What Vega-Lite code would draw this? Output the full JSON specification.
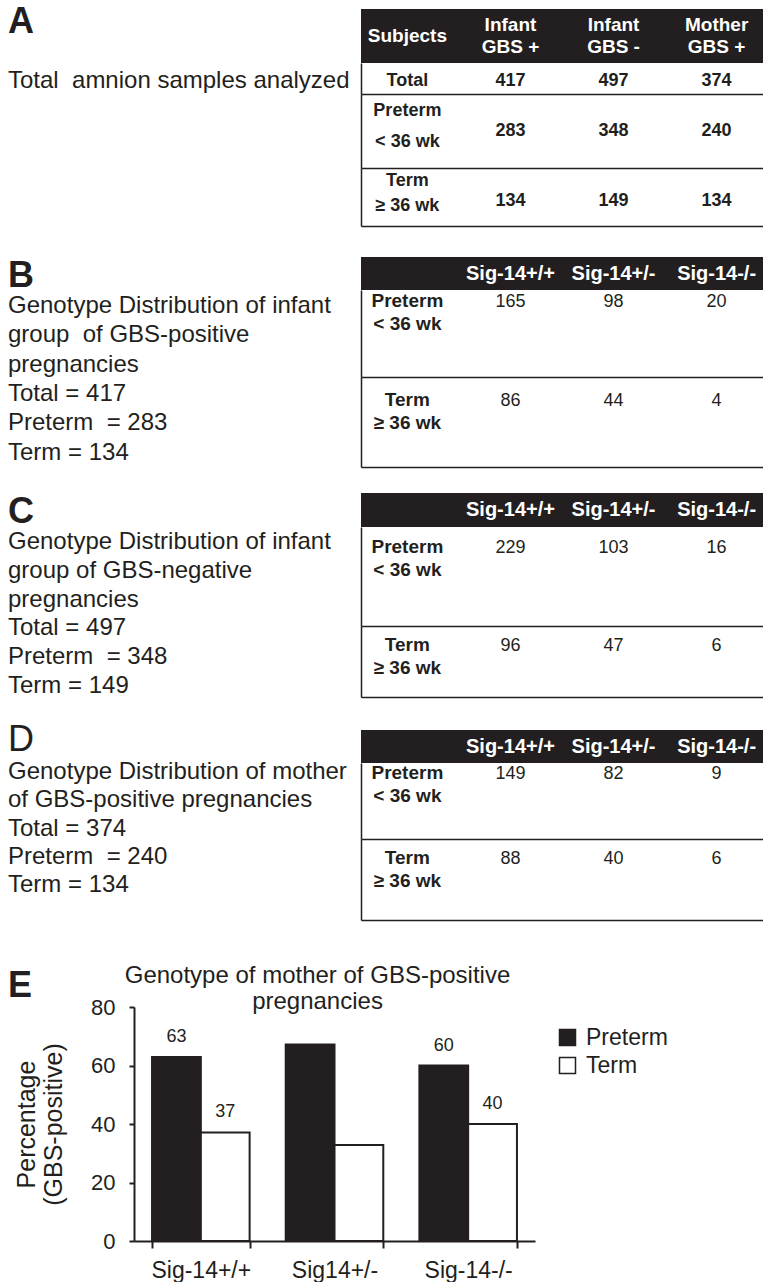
{
"$schema":"https://vega.github.io/schema/vega-lite/v6.json",
"padding":0,
"autosize":{"type":"pad"},
"background":"white",
"spacing":0,
"datasets":{
 "panels":[{"panel":"A"},{"panel":"B"},{"panel":"C"},{"panel":"D"},{"panel":"E"}],
 "descriptions":[
  {"panel":"A","line":0,"text":"Total\u00a0 amnion samples analyzed"},
  {"panel":"B","line":0,"text":"Genotype Distribution of infant"},
  {"panel":"B","line":1,"text":"group\u00a0 of GBS-positive"},
  {"panel":"B","line":2,"text":"pregnancies"},
  {"panel":"B","line":3,"text":"Total = 417"},
  {"panel":"B","line":4,"text":"Preterm\u00a0 = 283"},
  {"panel":"B","line":5,"text":"Term = 134"},
  {"panel":"C","line":0,"text":"Genotype Distribution of infant"},
  {"panel":"C","line":1,"text":"group of GBS-negative"},
  {"panel":"C","line":2,"text":"pregnancies"},
  {"panel":"C","line":3,"text":"Total = 497"},
  {"panel":"C","line":4,"text":"Preterm\u00a0 = 348"},
  {"panel":"C","line":5,"text":"Term = 149"},
  {"panel":"D","line":0,"text":"Genotype Distribution of mother"},
  {"panel":"D","line":1,"text":"of GBS-positive pregnancies"},
  {"panel":"D","line":2,"text":"Total = 374"},
  {"panel":"D","line":3,"text":"Preterm\u00a0 = 240"},
  {"panel":"D","line":4,"text":"Term = 134"}
 ],
 "amnionHead":[
  {"subject":"Subjects","head":"Subjects"},
  {"subject":"Infant GBS +","head":"Infant\nGBS +"},
  {"subject":"Infant GBS -","head":"Infant\nGBS -"},
  {"subject":"Mother GBS +","head":"Mother\nGBS +"}
 ],
 "amnion":[
  {"group":"Total","subject":"Infant GBS +","n":417},
  {"group":"Total","subject":"Infant GBS -","n":497},
  {"group":"Total","subject":"Mother GBS +","n":374},
  {"group":"Preterm","subject":"Infant GBS +","n":283},
  {"group":"Preterm","subject":"Infant GBS -","n":348},
  {"group":"Preterm","subject":"Mother GBS +","n":240},
  {"group":"Term","subject":"Infant GBS +","n":134},
  {"group":"Term","subject":"Infant GBS -","n":149},
  {"group":"Term","subject":"Mother GBS +","n":134}
 ],
 "rowLabels":[
  {"group":"Total","label":"Total"},
  {"group":"Preterm","label":"Preterm\n< 36 wk"},
  {"group":"Term","label":"Term\n≥ 36 wk"}
 ],
 "genoHead":[{"genotype":"Sig-14+/+"},{"genotype":"Sig-14+/-"},{"genotype":"Sig-14-/-"}],
 "genotypes":[
  {"panel":"B","group":"Preterm","genotype":"Sig-14+/+","n":165},
  {"panel":"B","group":"Preterm","genotype":"Sig-14+/-","n":98},
  {"panel":"B","group":"Preterm","genotype":"Sig-14-/-","n":20},
  {"panel":"B","group":"Term","genotype":"Sig-14+/+","n":86},
  {"panel":"B","group":"Term","genotype":"Sig-14+/-","n":44},
  {"panel":"B","group":"Term","genotype":"Sig-14-/-","n":4},
  {"panel":"C","group":"Preterm","genotype":"Sig-14+/+","n":229},
  {"panel":"C","group":"Preterm","genotype":"Sig-14+/-","n":103},
  {"panel":"C","group":"Preterm","genotype":"Sig-14-/-","n":16},
  {"panel":"C","group":"Term","genotype":"Sig-14+/+","n":96},
  {"panel":"C","group":"Term","genotype":"Sig-14+/-","n":47},
  {"panel":"C","group":"Term","genotype":"Sig-14-/-","n":6},
  {"panel":"D","group":"Preterm","genotype":"Sig-14+/+","n":149},
  {"panel":"D","group":"Preterm","genotype":"Sig-14+/-","n":82},
  {"panel":"D","group":"Preterm","genotype":"Sig-14-/-","n":9},
  {"panel":"D","group":"Term","genotype":"Sig-14+/+","n":88},
  {"panel":"D","group":"Term","genotype":"Sig-14+/-","n":40},
  {"panel":"D","group":"Term","genotype":"Sig-14-/-","n":6}
 ],
 "bars":[
  {"genotype":"Sig-14+/+","group":"Preterm","pct":62.9,"label":"63"},
  {"genotype":"Sig-14+/+","group":"Term","pct":37.1,"label":"37"},
  {"genotype":"Sig14+/-","group":"Preterm","pct":67.2,"label":null},
  {"genotype":"Sig14+/-","group":"Term","pct":32.8,"label":null},
  {"genotype":"Sig-14-/-","group":"Preterm","pct":60,"label":"60"},
  {"genotype":"Sig-14-/-","group":"Term","pct":40,"label":"40"}
 ]
},
"vconcat":[
 {"spacing":0,"bounds":"flush","hconcat":[
  {"width":361,"height":254,"layer":[
   {"data":{"name":"panels"},"transform":[{"filter":"datum.panel == 'A'"}],
    "mark":{"type":"text","align":"left","baseline":"top","dx":8,"dy":2,"fontSize":36,"fontWeight":"bold","fill":"#231f20"},
    "encoding":{"x":{"datum":0,"type":"quantitative","scale":{"domain":[0,1]},"axis":null},
     "y":{"datum":-1.7,"type":"quantitative","scale":{"domain":[-1.7,3.38],"reverse":true,"nice":false,"zero":false},"axis":null},
     "text":{"field":"panel","type":"nominal"}}},
   {"data":{"name":"descriptions"},"transform":[{"filter":"datum.panel == 'A'"}],
    "mark":{"type":"text","align":"left","baseline":"alphabetic","dx":8,"fontSize":24,"fill":"#231f20"},
    "encoding":{"x":{"datum":0,"type":"quantitative","scale":{"domain":[0,1]},"axis":null},
     "y":{"field":"line","type":"quantitative","scale":{"domain":[-1.7,3.38],"reverse":true,"nice":false,"zero":false},"axis":null},
     "text":{"field":"text","type":"nominal"}}}
  ]},
  {"spacing":0,"bounds":"flush","vconcat":[
   {"width":402,"height":6,"data":{"values":[{}]},"mark":{"type":"text","text":""},"encoding":{}},
   {"width":402,"height":54,"view":{"fill":"#231f20","stroke":null},"layer":[
    {"data":{"name":"amnionHead"},"transform":[{"filter":"datum.subject == 'Subjects'"}],
     "mark":{"type":"text","fill":"#ffffff","fontSize":19,"fontWeight":"bold","baseline":"middle"},
     "encoding":{"x":{"field":"subject","type":"nominal","scale":{"type":"point","domain":["Subjects","Infant GBS +","Infant GBS -","Mother GBS +"],"padding":0.45},"axis":null},"text":{"field":"head","type":"nominal"}}},
    {"data":{"name":"amnionHead"},"transform":[{"filter":"datum.subject != 'Subjects'"}],
     "mark":{"type":"text","fill":"#ffffff","fontSize":19,"fontWeight":"bold","baseline":"middle","dy":-11,"lineBreak":"\n","lineHeight":22},
     "encoding":{"x":{"field":"subject","type":"nominal","scale":{"type":"point","domain":["Subjects","Infant GBS +","Infant GBS -","Mother GBS +"],"padding":0.45},"axis":null},"text":{"field":"head","type":"nominal"}}}
   ]},
   {"width":402,"height":31,"layer":[
    {"data":{"name":"rowLabels"},"transform":[{"filter":"datum.group == 'Total'"}],
     "mark":{"type":"text","fontSize":18,"fontWeight":"bold","baseline":"middle","dy":2,"fill":"#231f20"},
     "encoding":{"x":{"datum":"Subjects","type":"nominal","scale":{"type":"point","domain":["Subjects","Infant GBS +","Infant GBS -","Mother GBS +"],"padding":0.45},"axis":{"orient":"bottom","labels":false,"ticks":false,"title":null,"grid":false,"domainColor":"#231f20","domainWidth":1.5}},
      "y":{"datum":0.5,"type":"quantitative","scale":{"domain":[0,1],"nice":false,"zero":false},"axis":{"orient":"left","labels":false,"ticks":false,"title":null,"grid":false,"domainColor":"#231f20","domainWidth":1.5}},
      "text":{"field":"label","type":"nominal"}}},
    {"data":{"name":"amnion"},"transform":[{"filter":"datum.group == 'Total'"}],
     "mark":{"type":"text","fontSize":18,"fontWeight":"bold","baseline":"middle","dy":2,"fill":"#231f20"},
     "encoding":{"x":{"field":"subject","type":"nominal","scale":{"type":"point","domain":["Subjects","Infant GBS +","Infant GBS -","Mother GBS +"],"padding":0.45},"axis":{"orient":"bottom","labels":false,"ticks":false,"title":null,"grid":false,"domainColor":"#231f20","domainWidth":1.5}},
      "y":{"datum":0.5,"type":"quantitative","scale":{"domain":[0,1],"nice":false,"zero":false},"axis":{"orient":"left","labels":false,"ticks":false,"title":null,"grid":false,"domainColor":"#231f20","domainWidth":1.5}},
      "text":{"field":"n","type":"nominal"}}}
   ]},
   {"width":402,"height":74,"layer":[
    {"data":{"name":"rowLabels"},"transform":[{"filter":"datum.group == 'Preterm'"}],
     "mark":{"type":"text","fontSize":18,"fontWeight":"bold","baseline":"middle","dy":-20,"lineBreak":"\n","lineHeight":31,"fill":"#231f20"},
     "encoding":{"x":{"datum":"Subjects","type":"nominal","scale":{"type":"point","domain":["Subjects","Infant GBS +","Infant GBS -","Mother GBS +"],"padding":0.45},"axis":{"orient":"bottom","labels":false,"ticks":false,"title":null,"grid":false,"domainColor":"#231f20","domainWidth":1.5}},
      "y":{"datum":0.5,"type":"quantitative","scale":{"domain":[0,1],"nice":false,"zero":false},"axis":{"orient":"left","labels":false,"ticks":false,"title":null,"grid":false,"domainColor":"#231f20","domainWidth":1.5}},
      "text":{"field":"label","type":"nominal"}}},
    {"data":{"name":"amnion"},"transform":[{"filter":"datum.group == 'Preterm'"}],
     "mark":{"type":"text","fontSize":18,"fontWeight":"bold","baseline":"middle","fill":"#231f20"},
     "encoding":{"x":{"field":"subject","type":"nominal","scale":{"type":"point","domain":["Subjects","Infant GBS +","Infant GBS -","Mother GBS +"],"padding":0.45},"axis":{"orient":"bottom","labels":false,"ticks":false,"title":null,"grid":false,"domainColor":"#231f20","domainWidth":1.5}},
      "y":{"datum":0.5,"type":"quantitative","scale":{"domain":[0,1],"nice":false,"zero":false},"axis":{"orient":"left","labels":false,"ticks":false,"title":null,"grid":false,"domainColor":"#231f20","domainWidth":1.5}},
      "text":{"field":"n","type":"nominal"}}}
   ]},
   {"width":402,"height":58,"layer":[
    {"data":{"name":"rowLabels"},"transform":[{"filter":"datum.group == 'Term'"}],
     "mark":{"type":"text","fontSize":18,"fontWeight":"bold","baseline":"middle","dy":-16,"lineBreak":"\n","lineHeight":25,"fill":"#231f20"},
     "encoding":{"x":{"datum":"Subjects","type":"nominal","scale":{"type":"point","domain":["Subjects","Infant GBS +","Infant GBS -","Mother GBS +"],"padding":0.45},"axis":{"orient":"bottom","labels":false,"ticks":false,"title":null,"grid":false,"domainColor":"#231f20","domainWidth":1.5}},
      "y":{"datum":0.5,"type":"quantitative","scale":{"domain":[0,1],"nice":false,"zero":false},"axis":{"orient":"left","labels":false,"ticks":false,"title":null,"grid":false,"domainColor":"#231f20","domainWidth":1.5}},
      "text":{"field":"label","type":"nominal"}}},
    {"data":{"name":"amnion"},"transform":[{"filter":"datum.group == 'Term'"}],
     "mark":{"type":"text","fontSize":18,"fontWeight":"bold","baseline":"middle","dy":4,"fill":"#231f20"},
     "encoding":{"x":{"field":"subject","type":"nominal","scale":{"type":"point","domain":["Subjects","Infant GBS +","Infant GBS -","Mother GBS +"],"padding":0.45},"axis":{"orient":"bottom","labels":false,"ticks":false,"title":null,"grid":false,"domainColor":"#231f20","domainWidth":1.5}},
      "y":{"datum":0.5,"type":"quantitative","scale":{"domain":[0,1],"nice":false,"zero":false},"axis":{"orient":"left","labels":false,"ticks":false,"title":null,"grid":false,"domainColor":"#231f20","domainWidth":1.5}},
      "text":{"field":"n","type":"nominal"}}}
   ]}
  ]}
 ]},
 {"spacing":0,"bounds":"flush","hconcat":[
  {"width":361,"height":236,"layer":[
   {"data":{"name":"panels"},"transform":[{"filter":"datum.panel == 'B'"}],
    "mark":{"type":"text","align":"left","baseline":"top","dx":8,"dy":2,"fontSize":36,"fontWeight":"bold","fill":"#231f20"},
    "encoding":{"x":{"datum":0,"type":"quantitative","scale":{"domain":[0,1]},"axis":null},
     "y":{"datum":-1.9113,"type":"quantitative","scale":{"domain":[-1.9113,6.1433],"reverse":true,"nice":false,"zero":false},"axis":null},
     "text":{"field":"panel","type":"nominal"}}},
   {"data":{"name":"descriptions"},"transform":[{"filter":"datum.panel == 'B'"}],
    "mark":{"type":"text","align":"left","baseline":"alphabetic","dx":8,"fontSize":24,"fill":"#231f20"},
    "encoding":{"x":{"datum":0,"type":"quantitative","scale":{"domain":[0,1]},"axis":null},
     "y":{"field":"line","type":"quantitative","scale":{"domain":[-1.9113,6.1433],"reverse":true,"nice":false,"zero":false},"axis":null},
     "text":{"field":"text","type":"nominal"}}}
  ]},
  {"spacing":0,"bounds":"flush","vconcat":[
   {"width":402,"height":33,"view":{"fill":"#231f20","stroke":null},"data":{"name":"genoHead"},
    "mark":{"type":"text","fill":"#ffffff","fontSize":20,"fontWeight":"bold","baseline":"middle"},
    "encoding":{"x":{"field":"genotype","type":"nominal","scale":{"type":"point","domain":["Group","Sig-14+/+","Sig-14+/-","Sig-14-/-"],"padding":0.45},"axis":null},"text":{"field":"genotype","type":"nominal"}}},
   {"width":402,"height":87,"layer":[
    {"data":{"name":"rowLabels"},"transform":[{"filter":"datum.group == 'Preterm'"}],
     "mark":{"type":"text","fontSize":19,"fontWeight":"bold","baseline":"alphabetic","dy":17,"lineBreak":"\n","lineHeight":23,"fill":"#231f20"},
     "encoding":{"x":{"datum":"Group","type":"nominal","scale":{"type":"point","domain":["Group","Sig-14+/+","Sig-14+/-","Sig-14-/-"],"padding":0.45},"axis":{"orient":"bottom","labels":false,"ticks":false,"title":null,"grid":false,"domainColor":"#231f20","domainWidth":1.5}},
      "y":{"datum":1,"type":"quantitative","scale":{"domain":[0,1],"nice":false,"zero":false},"axis":{"orient":"left","labels":false,"ticks":false,"title":null,"grid":false,"domainColor":"#231f20","domainWidth":1.5}},
      "text":{"field":"label","type":"nominal"}}},
    {"data":{"name":"genotypes"},"transform":[{"filter":"datum.panel == 'B' && datum.group == 'Preterm'"}],
     "mark":{"type":"text","fontSize":18,"baseline":"alphabetic","dy":17,"fill":"#231f20"},
     "encoding":{"x":{"field":"genotype","type":"nominal","scale":{"type":"point","domain":["Group","Sig-14+/+","Sig-14+/-","Sig-14-/-"],"padding":0.45},"axis":{"orient":"bottom","labels":false,"ticks":false,"title":null,"grid":false,"domainColor":"#231f20","domainWidth":1.5}},
      "y":{"datum":1,"type":"quantitative","scale":{"domain":[0,1],"nice":false,"zero":false},"axis":{"orient":"left","labels":false,"ticks":false,"title":null,"grid":false,"domainColor":"#231f20","domainWidth":1.5}},
      "text":{"field":"n","type":"nominal"}}}
   ]},
   {"width":402,"height":90,"layer":[
    {"data":{"name":"rowLabels"},"transform":[{"filter":"datum.group == 'Term'"}],
     "mark":{"type":"text","fontSize":19,"fontWeight":"bold","baseline":"alphabetic","dy":29,"lineBreak":"\n","lineHeight":23,"fill":"#231f20"},
     "encoding":{"x":{"datum":"Group","type":"nominal","scale":{"type":"point","domain":["Group","Sig-14+/+","Sig-14+/-","Sig-14-/-"],"padding":0.45},"axis":{"orient":"bottom","labels":false,"ticks":false,"title":null,"grid":false,"domainColor":"#231f20","domainWidth":1.5}},
      "y":{"datum":1,"type":"quantitative","scale":{"domain":[0,1],"nice":false,"zero":false},"axis":{"orient":"left","labels":false,"ticks":false,"title":null,"grid":false,"domainColor":"#231f20","domainWidth":1.5}},
      "text":{"field":"label","type":"nominal"}}},
    {"data":{"name":"genotypes"},"transform":[{"filter":"datum.panel == 'B' && datum.group == 'Term'"}],
     "mark":{"type":"text","fontSize":18,"baseline":"alphabetic","dy":29,"fill":"#231f20"},
     "encoding":{"x":{"field":"genotype","type":"nominal","scale":{"type":"point","domain":["Group","Sig-14+/+","Sig-14+/-","Sig-14-/-"],"padding":0.45},"axis":{"orient":"bottom","labels":false,"ticks":false,"title":null,"grid":false,"domainColor":"#231f20","domainWidth":1.5}},
      "y":{"datum":1,"type":"quantitative","scale":{"domain":[0,1],"nice":false,"zero":false},"axis":{"orient":"left","labels":false,"ticks":false,"title":null,"grid":false,"domainColor":"#231f20","domainWidth":1.5}},
      "text":{"field":"n","type":"nominal"}}}
   ]}
  ]}
 ]},
 {"spacing":0,"bounds":"flush","hconcat":[
  {"width":361,"height":226,"layer":[
   {"data":{"name":"panels"},"transform":[{"filter":"datum.panel == 'C'"}],
    "mark":{"type":"text","align":"left","baseline":"top","dx":8,"dy":2,"fontSize":36,"fontWeight":"bold","fill":"#231f20"},
    "encoding":{"x":{"datum":0,"type":"quantitative","scale":{"domain":[0,1]},"axis":null},
     "y":{"datum":-1.9444,"type":"quantitative","scale":{"domain":[-1.9444,5.9028],"reverse":true,"nice":false,"zero":false},"axis":null},
     "text":{"field":"panel","type":"nominal"}}},
   {"data":{"name":"descriptions"},"transform":[{"filter":"datum.panel == 'C'"}],
    "mark":{"type":"text","align":"left","baseline":"alphabetic","dx":8,"fontSize":24,"fill":"#231f20"},
    "encoding":{"x":{"datum":0,"type":"quantitative","scale":{"domain":[0,1]},"axis":null},
     "y":{"field":"line","type":"quantitative","scale":{"domain":[-1.9444,5.9028],"reverse":true,"nice":false,"zero":false},"axis":null},
     "text":{"field":"text","type":"nominal"}}}
  ]},
  {"spacing":0,"bounds":"flush","vconcat":[
   {"width":402,"height":34,"view":{"fill":"#231f20","stroke":null},"data":{"name":"genoHead"},
    "mark":{"type":"text","fill":"#ffffff","fontSize":20,"fontWeight":"bold","baseline":"middle"},
    "encoding":{"x":{"field":"genotype","type":"nominal","scale":{"type":"point","domain":["Group","Sig-14+/+","Sig-14+/-","Sig-14-/-"],"padding":0.45},"axis":null},"text":{"field":"genotype","type":"nominal"}}},
   {"width":402,"height":99,"layer":[
    {"data":{"name":"rowLabels"},"transform":[{"filter":"datum.group == 'Preterm'"}],
     "mark":{"type":"text","fontSize":19,"fontWeight":"bold","baseline":"alphabetic","dy":26,"lineBreak":"\n","lineHeight":23,"fill":"#231f20"},
     "encoding":{"x":{"datum":"Group","type":"nominal","scale":{"type":"point","domain":["Group","Sig-14+/+","Sig-14+/-","Sig-14-/-"],"padding":0.45},"axis":{"orient":"bottom","labels":false,"ticks":false,"title":null,"grid":false,"domainColor":"#231f20","domainWidth":1.5}},
      "y":{"datum":1,"type":"quantitative","scale":{"domain":[0,1],"nice":false,"zero":false},"axis":{"orient":"left","labels":false,"ticks":false,"title":null,"grid":false,"domainColor":"#231f20","domainWidth":1.5}},
      "text":{"field":"label","type":"nominal"}}},
    {"data":{"name":"genotypes"},"transform":[{"filter":"datum.panel == 'C' && datum.group == 'Preterm'"}],
     "mark":{"type":"text","fontSize":18,"baseline":"alphabetic","dy":26,"fill":"#231f20"},
     "encoding":{"x":{"field":"genotype","type":"nominal","scale":{"type":"point","domain":["Group","Sig-14+/+","Sig-14+/-","Sig-14-/-"],"padding":0.45},"axis":{"orient":"bottom","labels":false,"ticks":false,"title":null,"grid":false,"domainColor":"#231f20","domainWidth":1.5}},
      "y":{"datum":1,"type":"quantitative","scale":{"domain":[0,1],"nice":false,"zero":false},"axis":{"orient":"left","labels":false,"ticks":false,"title":null,"grid":false,"domainColor":"#231f20","domainWidth":1.5}},
      "text":{"field":"n","type":"nominal"}}}
   ]},
   {"width":402,"height":71,"layer":[
    {"data":{"name":"rowLabels"},"transform":[{"filter":"datum.group == 'Term'"}],
     "mark":{"type":"text","fontSize":19,"fontWeight":"bold","baseline":"alphabetic","dy":25,"lineBreak":"\n","lineHeight":23,"fill":"#231f20"},
     "encoding":{"x":{"datum":"Group","type":"nominal","scale":{"type":"point","domain":["Group","Sig-14+/+","Sig-14+/-","Sig-14-/-"],"padding":0.45},"axis":{"orient":"bottom","labels":false,"ticks":false,"title":null,"grid":false,"domainColor":"#231f20","domainWidth":1.5}},
      "y":{"datum":1,"type":"quantitative","scale":{"domain":[0,1],"nice":false,"zero":false},"axis":{"orient":"left","labels":false,"ticks":false,"title":null,"grid":false,"domainColor":"#231f20","domainWidth":1.5}},
      "text":{"field":"label","type":"nominal"}}},
    {"data":{"name":"genotypes"},"transform":[{"filter":"datum.panel == 'C' && datum.group == 'Term'"}],
     "mark":{"type":"text","fontSize":18,"baseline":"alphabetic","dy":25,"fill":"#231f20"},
     "encoding":{"x":{"field":"genotype","type":"nominal","scale":{"type":"point","domain":["Group","Sig-14+/+","Sig-14+/-","Sig-14-/-"],"padding":0.45},"axis":{"orient":"bottom","labels":false,"ticks":false,"title":null,"grid":false,"domainColor":"#231f20","domainWidth":1.5}},
      "y":{"datum":1,"type":"quantitative","scale":{"domain":[0,1],"nice":false,"zero":false},"axis":{"orient":"left","labels":false,"ticks":false,"title":null,"grid":false,"domainColor":"#231f20","domainWidth":1.5}},
      "text":{"field":"n","type":"nominal"}}}
   ]}
  ]}
 ]},
 {"spacing":0,"bounds":"flush","hconcat":[
  {"width":361,"height":242,"layer":[
   {"data":{"name":"panels"},"transform":[{"filter":"datum.panel == 'D'"}],
    "mark":{"type":"text","align":"left","baseline":"top","dx":8,"dy":2,"fontSize":36,"fontWeight":"normal","fill":"#231f20"},
    "encoding":{"x":{"datum":0,"type":"quantitative","scale":{"domain":[0,1]},"axis":null},
     "y":{"datum":-2.0495,"type":"quantitative","scale":{"domain":[-2.0495,6.5017],"reverse":true,"nice":false,"zero":false},"axis":null},
     "text":{"field":"panel","type":"nominal"}}},
   {"data":{"name":"descriptions"},"transform":[{"filter":"datum.panel == 'D'"}],
    "mark":{"type":"text","align":"left","baseline":"alphabetic","dx":8,"fontSize":24,"fill":"#231f20"},
    "encoding":{"x":{"datum":0,"type":"quantitative","scale":{"domain":[0,1]},"axis":null},
     "y":{"field":"line","type":"quantitative","scale":{"domain":[-2.0495,6.5017],"reverse":true,"nice":false,"zero":false},"axis":null},
     "text":{"field":"text","type":"nominal"}}}
  ]},
  {"spacing":0,"bounds":"flush","vconcat":[
   {"width":402,"height":9,"data":{"values":[{}]},"mark":{"type":"text","text":""},"encoding":{}},
   {"width":402,"height":33,"view":{"fill":"#231f20","stroke":null},"data":{"name":"genoHead"},
    "mark":{"type":"text","fill":"#ffffff","fontSize":20,"fontWeight":"bold","baseline":"middle"},
    "encoding":{"x":{"field":"genotype","type":"nominal","scale":{"type":"point","domain":["Group","Sig-14+/+","Sig-14+/-","Sig-14-/-"],"padding":0.45},"axis":null},"text":{"field":"genotype","type":"nominal"}}},
   {"width":402,"height":76,"layer":[
    {"data":{"name":"rowLabels"},"transform":[{"filter":"datum.group == 'Preterm'"}],
     "mark":{"type":"text","fontSize":19,"fontWeight":"bold","baseline":"alphabetic","dy":16,"lineBreak":"\n","lineHeight":23,"fill":"#231f20"},
     "encoding":{"x":{"datum":"Group","type":"nominal","scale":{"type":"point","domain":["Group","Sig-14+/+","Sig-14+/-","Sig-14-/-"],"padding":0.45},"axis":{"orient":"bottom","labels":false,"ticks":false,"title":null,"grid":false,"domainColor":"#231f20","domainWidth":1.5}},
      "y":{"datum":1,"type":"quantitative","scale":{"domain":[0,1],"nice":false,"zero":false},"axis":{"orient":"left","labels":false,"ticks":false,"title":null,"grid":false,"domainColor":"#231f20","domainWidth":1.5}},
      "text":{"field":"label","type":"nominal"}}},
    {"data":{"name":"genotypes"},"transform":[{"filter":"datum.panel == 'D' && datum.group == 'Preterm'"}],
     "mark":{"type":"text","fontSize":18,"baseline":"alphabetic","dy":16,"fill":"#231f20"},
     "encoding":{"x":{"field":"genotype","type":"nominal","scale":{"type":"point","domain":["Group","Sig-14+/+","Sig-14+/-","Sig-14-/-"],"padding":0.45},"axis":{"orient":"bottom","labels":false,"ticks":false,"title":null,"grid":false,"domainColor":"#231f20","domainWidth":1.5}},
      "y":{"datum":1,"type":"quantitative","scale":{"domain":[0,1],"nice":false,"zero":false},"axis":{"orient":"left","labels":false,"ticks":false,"title":null,"grid":false,"domainColor":"#231f20","domainWidth":1.5}},
      "text":{"field":"n","type":"nominal"}}}
   ]},
   {"width":402,"height":81,"layer":[
    {"data":{"name":"rowLabels"},"transform":[{"filter":"datum.group == 'Term'"}],
     "mark":{"type":"text","fontSize":19,"fontWeight":"bold","baseline":"alphabetic","dy":25,"lineBreak":"\n","lineHeight":23,"fill":"#231f20"},
     "encoding":{"x":{"datum":"Group","type":"nominal","scale":{"type":"point","domain":["Group","Sig-14+/+","Sig-14+/-","Sig-14-/-"],"padding":0.45},"axis":{"orient":"bottom","labels":false,"ticks":false,"title":null,"grid":false,"domainColor":"#231f20","domainWidth":1.5}},
      "y":{"datum":1,"type":"quantitative","scale":{"domain":[0,1],"nice":false,"zero":false},"axis":{"orient":"left","labels":false,"ticks":false,"title":null,"grid":false,"domainColor":"#231f20","domainWidth":1.5}},
      "text":{"field":"label","type":"nominal"}}},
    {"data":{"name":"genotypes"},"transform":[{"filter":"datum.panel == 'D' && datum.group == 'Term'"}],
     "mark":{"type":"text","fontSize":18,"baseline":"alphabetic","dy":25,"fill":"#231f20"},
     "encoding":{"x":{"field":"genotype","type":"nominal","scale":{"type":"point","domain":["Group","Sig-14+/+","Sig-14+/-","Sig-14-/-"],"padding":0.45},"axis":{"orient":"bottom","labels":false,"ticks":false,"title":null,"grid":false,"domainColor":"#231f20","domainWidth":1.5}},
      "y":{"datum":1,"type":"quantitative","scale":{"domain":[0,1],"nice":false,"zero":false},"axis":{"orient":"left","labels":false,"ticks":false,"title":null,"grid":false,"domainColor":"#231f20","domainWidth":1.5}},
      "text":{"field":"n","type":"nominal"}}}
   ]}
  ]}
 ]},
 {"spacing":0,"bounds":"flush","resolve":{"scale":{"fill":"independent"},"legend":{"fill":"independent"}},"vconcat":[
  {"width":361,"height":44,"data":{"name":"panels"},"transform":[{"filter":"datum.panel == 'E'"}],
   "mark":{"type":"text","align":"left","baseline":"top","dx":8,"dy":2,"fontSize":36,"fontWeight":"bold","fill":"#231f20"},
   "encoding":{"x":{"datum":0,"type":"quantitative","scale":{"domain":[0,1]},"axis":null},
    "y":{"datum":-1,"type":"quantitative","scale":{"domain":[-1.1,-0.1],"reverse":true,"nice":false,"zero":false},"axis":null},
    "text":{"field":"panel","type":"nominal"}}},
  {"spacing":0,"bounds":"flush","resolve":{"scale":{"fill":"independent"},"legend":{"fill":"independent"}},"hconcat":[
   {"width":134,"height":234,"data":{"values":[{}]},"mark":{"type":"text","text":""},"encoding":{}},
   {"width":401,"height":234,
    "title":{"text":["Genotype of mother of GBS-positive","pregnancies"],"frame":"group","fontSize":24,"fontWeight":"normal","font":"Liberation Sans","color":"#231f20","anchor":"middle","dx":-17,"offset":-42,"baseline":"bottom","lineHeight":26},
    "data":{"name":"bars"},
    "encoding":{
     "x":{"field":"genotype","type":"nominal","sort":["Sig-14+/+","Sig14+/-","Sig-14-/-"],"scale":{"paddingInner":0.27,"paddingOuter":0.135},
      "axis":{"title":null,"labelAngle":0,"labelFontSize":23,"labelFont":"Liberation Sans","labelColor":"#231f20","labelPadding":11,"tickBand":"extent","tickSize":7,"tickWidth":2,"tickColor":"#231f20","domainColor":"#231f20","domainWidth":2}},
     "xOffset":{"field":"group","type":"nominal","sort":["Preterm","Term"]},
     "y":{"field":"pct","type":"quantitative","scale":{"domain":[0,80],"nice":false},
      "axis":{"title":["Percentage","(GBS-positive)"],"titleFontSize":25,"titleFont":"Liberation Sans","titleFontWeight":"normal","titleColor":"#231f20","titlePadding":24,"titleLineHeight":27,"values":[0,20,40,60,80],"labelFontSize":22,"labelFont":"Liberation Sans","labelColor":"#231f20","labelPadding":14,"tickSize":5,"tickWidth":2,"tickColor":"#231f20","domainColor":"#231f20","domainWidth":2,"grid":false}}
    },
    "layer":[
     {"mark":{"type":"bar","stroke":"#231f20","strokeWidth":2},
      "encoding":{"fill":{"field":"group","type":"nominal","scale":{"domain":["Preterm","Term"],"range":["#231f20","#ffffff"]},
       "legend":{"title":null,"orient":"right","offset":2,"padding":19,"symbolType":"square","symbolSize":256,"symbolStrokeColor":"#231f20","symbolStrokeWidth":1.5,"symbolOpacity":1,"labelFontSize":23,"labelFont":"Liberation Sans","labelColor":"#231f20","labelOffset":7,"rowPadding":4}}}},
     {"transform":[{"filter":"datum.label != null"}],
      "mark":{"type":"text","baseline":"alphabetic","dy":-15,"fontSize":18,"fill":"#231f20"},
      "encoding":{"text":{"field":"label","type":"nominal"}}}
    ]}
  ]}
 ]}
],
"resolve":{"scale":{"fill":"independent"},"legend":{"fill":"independent"}},
"config":{"view":{"stroke":null},"font":"Liberation Sans","text":{"font":"Liberation Sans"},"concat":{"spacing":0}}
}
